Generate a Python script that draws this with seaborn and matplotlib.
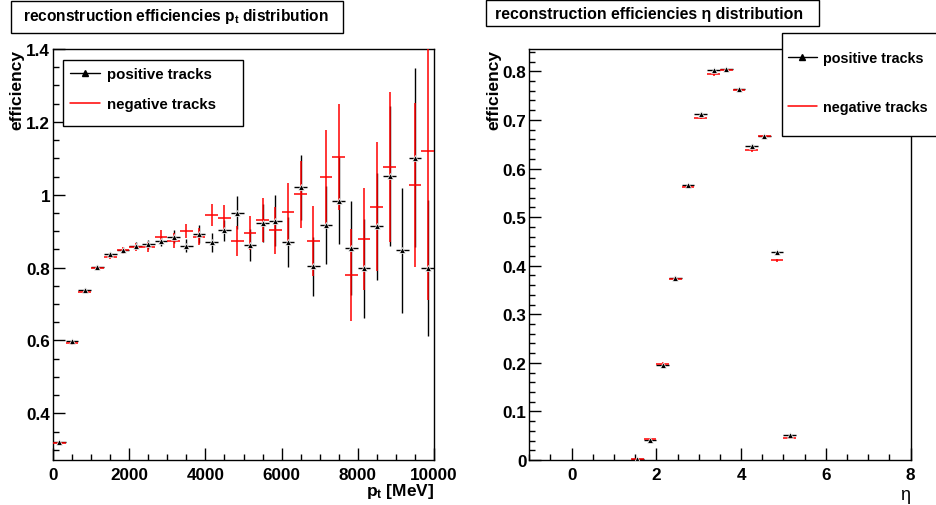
import numpy as np
import pandas as pd
import seaborn as sns
import matplotlib
matplotlib.use("Agg")
import matplotlib.pyplot as plt
from matplotlib.lines import Line2D
from matplotlib.patches import Rectangle
from matplotlib.ticker import MultipleLocator, FuncFormatter

# pt histogram: 30 bins between 0 and 10000 MeV
pt_edges = np.linspace(0, 10000, 31)
pt_pos_eff = [0.322, 0.598, 0.739, 0.803, 0.837, 0.849, 0.860, 0.864, 0.874, 0.885,
              0.860, 0.892, 0.869, 0.902, 0.951, 0.862, 0.922, 0.928, 0.870, 1.020,
              0.804, 0.917, 0.984, 0.854, 0.798, 0.913, 1.051, 0.847, 1.102, 0.799]
pt_pos_err = [0.003, 0.004, 0.005, 0.005, 0.006, 0.008, 0.010, 0.013, 0.014, 0.018,
              0.018, 0.025, 0.027, 0.030, 0.045, 0.045, 0.053, 0.070, 0.069, 0.089,
              0.081, 0.108, 0.120, 0.128, 0.136, 0.146, 0.193, 0.172, 0.245, 0.186]
pt_neg_eff = [0.320, 0.592, 0.734, 0.799, 0.830, 0.847, 0.856, 0.856, 0.885, 0.874,
              0.900, 0.885, 0.944, 0.935, 0.874, 0.895, 0.931, 0.902, 0.953, 1.001,
              0.874, 1.049, 1.104, 0.780, 0.878, 0.967, 1.076, np.nan, 1.026, 1.120]
pt_neg_err = [0.003, 0.004, 0.005, 0.006, 0.007, 0.009, 0.011, 0.014, 0.018, 0.020,
              0.020, 0.023, 0.030, 0.037, 0.041, 0.048, 0.060, 0.065, 0.080, 0.092,
              0.096, 0.130, 0.145, 0.127, 0.140, 0.177, 0.205, np.nan, 0.225, 0.410]

# eta histogram: bins of width 0.3, only filled ones
eta_bin_width = 0.3
eta_centers = [1.55, 1.85, 2.15, 2.45, 2.75, 3.05, 3.35, 3.65, 3.95, 4.25, 4.55, 4.85, 5.15]
eta_pos_eff = [0.002, 0.042, 0.195, 0.375, 0.566, 0.713, 0.802, 0.804, 0.764, 0.647, 0.667, 0.428, 0.052]
eta_pos_err = [0.001, 0.002, 0.003, 0.003, 0.003, 0.003, 0.003, 0.002, 0.002, 0.003, 0.002, 0.003, 0.002]
eta_neg_eff = [0.002, 0.044, 0.198, 0.373, 0.562, 0.704, 0.794, 0.802, 0.762, 0.638, 0.666, 0.411, 0.046]
eta_neg_err = [0.001, 0.002, 0.003, 0.003, 0.003, 0.003, 0.003, 0.002, 0.002, 0.003, 0.002, 0.003, 0.002]

series_labels = ["positive tracks", "negative tracks"]

sns.set_theme(style="white")
plt.rcParams['font.family'] = ['Liberation Sans', 'DejaVu Sans']
plt.rcParams['font.weight'] = 'bold'
plt.rcParams['text.color'] = 'black'
plt.rcParams['axes.labelcolor'] = 'black'
plt.rcParams['xtick.color'] = 'black'
plt.rcParams['ytick.color'] = 'black'
plt.rcParams['mathtext.fontset'] = 'custom'
plt.rcParams['mathtext.it'] = 'Liberation Sans:bold'
plt.rcParams['mathtext.rm'] = 'Liberation Sans:bold'
plt.rcParams['mathtext.bf'] = 'Liberation Sans:bold'

W, H = 936.0, 506.0


def px_rect(x0, y0, x1, y1):
    # pixel box (top-left origin) -> figure fraction [l, b, w, h]
    return [x0 / W, 1 - y1 / H, (x1 - x0) / W, (y1 - y0) / H]


def draw_eff(ax, x, half, pos, pos_err, neg, neg_err):
    ax.errorbar(x, pos, xerr=half, yerr=pos_err, fmt='none', ecolor='black',
                elinewidth=1.0, capsize=0, zorder=2)
    ax.errorbar(x, neg, xerr=half, yerr=neg_err, fmt='none', ecolor='red',
                elinewidth=1.1, capsize=0, zorder=3)
    df = pd.DataFrame({'x': x, 'eff': pos})
    sns.scatterplot(data=df, x='x', y='eff', marker='^', s=18, color='black',
                    edgecolor='white', linewidth=0.5, ax=ax, zorder=4, legend=False)


def style_axis(ax):
    for sp in ax.spines.values():
        sp.set_color('black')
        sp.set_linewidth(1.0)
    ax.tick_params(which='both', direction='in', bottom=True, left=True,
                   top=False, right=False, color='black', labelcolor='black',
                   labelsize=12.3)
    ax.tick_params(which='major', length=8.5, width=1.0)
    ax.tick_params(which='minor', length=4.5, width=1.0)
    ax.tick_params(axis='x', which='major', pad=5)
    ax.tick_params(axis='y', which='major', pad=2)
    fmt = FuncFormatter(lambda v, p: '%g' % round(v, 6))
    ax.xaxis.set_major_formatter(fmt)
    ax.yaxis.set_major_formatter(fmt)
    for lab in ax.get_xticklabels() + ax.get_yticklabels():
        lab.set_fontweight('bold')
    ax.grid(False)


fig = plt.figure(figsize=(9.36, 5.06), dpi=100)
ax1 = fig.add_axes(px_rect(53, 50, 434, 461))
ax2 = fig.add_axes(px_rect(529.3, 50, 910.5, 461))

# left: pt
pt_centers = 0.5 * (pt_edges[:-1] + pt_edges[1:])
pt_half = 0.5 * np.diff(pt_edges)
draw_eff(ax1, pt_centers, pt_half, pt_pos_eff, pt_pos_err, pt_neg_eff, pt_neg_err)
ax1.set_xlim(0, 10000)
ax1.set_ylim(0.272, 1.4)
ax1.xaxis.set_major_locator(MultipleLocator(2000))
ax1.xaxis.set_minor_locator(MultipleLocator(500))
ax1.yaxis.set_major_locator(MultipleLocator(0.2))
ax1.yaxis.set_minor_locator(MultipleLocator(0.05))
style_axis(ax1)
ax1.set_xlabel(r"$p_{t}$ [MeV]", loc='right', fontsize=12.5, fontweight='bold')
ax1.set_ylabel("efficiency", loc='top', fontsize=12.5, fontweight='bold')
ax1.xaxis.set_label_coords(1.0, -0.052)
ax1.yaxis.set_label_coords(-0.074, 1.0)

# right: eta
eta_half = [eta_bin_width / 2] * len(eta_centers)
draw_eff(ax2, eta_centers, eta_half, eta_pos_eff, eta_pos_err, eta_neg_eff, eta_neg_err)
ax2.set_xlim(-1, 8)
ax2.set_ylim(0, 0.846)
ax2.xaxis.set_major_locator(MultipleLocator(2))
ax2.xaxis.set_minor_locator(MultipleLocator(0.5))
ax2.yaxis.set_major_locator(MultipleLocator(0.1))
ax2.yaxis.set_minor_locator(MultipleLocator(0.02))
style_axis(ax2)
ax2.set_xlabel("η", loc='right', fontsize=13, fontweight='normal')
ax2.set_ylabel("efficiency", loc='top', fontsize=12.5, fontweight='bold')
ax2.xaxis.set_label_coords(1.0, -0.064)
ax2.yaxis.set_label_coords(-0.074, 1.0)

# title boxes
fig.add_artist(Rectangle(px_rect(10.7, 1.7, 343, 34.3)[:2], (343 - 10.7) / W, (34.3 - 1.7) / H,
                         transform=fig.transFigure, facecolor='white', edgecolor='black',
                         linewidth=1.0, zorder=3))
fig.text(22.7 / W, 1 - 20.5 / H, r"reconstruction efficiencies $p_{t}$ distribution",
         fontsize=11.2, fontweight='bold', ha='left', va='baseline', zorder=4)
fig.add_artist(Rectangle(px_rect(486, 1, 819, 26.7)[:2], (819 - 486) / W, (26.7 - 1) / H,
                         transform=fig.transFigure, facecolor='white', edgecolor='black',
                         linewidth=1.0, zorder=3))
fig.text(495 / W, 1 - 19.5 / H, "reconstruction efficiencies η distribution",
         fontsize=11.4, fontweight='bold', ha='left', va='baseline', zorder=4)

# legends
handles = [Line2D([], [], color='black', lw=1.0, marker='^', markersize=4.5),
           Line2D([], [], color='red', lw=1.1)]
fig.add_artist(Rectangle(px_rect(63.3, 60.7, 243.3, 126.7)[:2], 180 / W, 66 / H,
                         transform=fig.transFigure, facecolor='white', edgecolor='black',
                         linewidth=1.0, zorder=3))
fig.legend(handles, series_labels, loc='upper left', bbox_to_anchor=(70 / W, 1 - 68 / H),
           bbox_transform=fig.transFigure, frameon=False, borderpad=0, borderaxespad=0,
           fontsize=10.8, handlelength=2.0, handletextpad=0.47, labelspacing=1.07)
fig.add_artist(Rectangle(px_rect(781.7, 34.3, 960, 136.7)[:2], (960 - 781.7) / W, (136.7 - 34.3) / H,
                         transform=fig.transFigure, facecolor='white', edgecolor='black',
                         linewidth=1.0, zorder=3))
fig.legend(handles, series_labels, loc='upper left', bbox_to_anchor=(788 / W, 1 - 52.4 / H),
           bbox_transform=fig.transFigure, frameon=False, borderpad=0, borderaxespad=0,
           fontsize=10.4, handlelength=2.0, handletextpad=0.42, labelspacing=2.39)

fig.savefig("out.png", dpi=100)
